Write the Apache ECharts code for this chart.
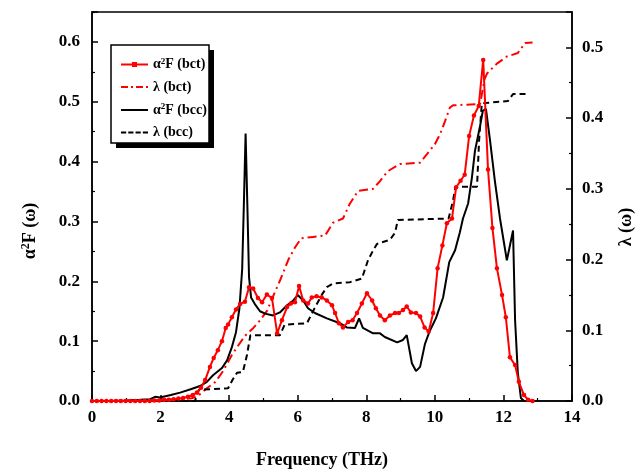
<!DOCTYPE html>
<html><head><meta charset="utf-8">
<script src="https://cdn.jsdelivr.net/npm/echarts@6/dist/echarts.min.js"></script>
<style>html,body{margin:0;padding:0;background:#fff}#c{width:644px;height:473px}</style>
</head><body><div id="c"></div>
<script>
// [frequency (THz), value]
const a2fBct = [[0,0],[0.14,0],[0.28,0],[0.42,0],[0.56,0],[0.7,0],[0.84,0],[0.98,0],[1.12,0],[1.26,0],[1.4,0],[1.54,0],[1.68,0],[1.82,0.001],[1.96,0.001],[2.1,0.002],[2.24,0.002],[2.38,0.003],[2.52,0.004],[2.66,0.005],[2.8,0.007],[2.94,0.01],[3.06,0.014],[3.18,0.022],[3.3,0.035],[3.44,0.057],[3.55,0.072],[3.67,0.085],[3.79,0.1],[3.9,0.122],[3.97,0.128],[4.08,0.14],[4.2,0.153],[4.32,0.162],[4.46,0.166],[4.58,0.19],[4.7,0.188],[4.84,0.172],[4.96,0.165],[5.1,0.178],[5.25,0.172],[5.4,0.113],[5.54,0.135],[5.69,0.157],[5.8,0.163],[5.92,0.165],[6.04,0.192],[6.16,0.168],[6.3,0.163],[6.41,0.173],[6.55,0.175],[6.7,0.173],[6.85,0.168],[7.0,0.16],[7.09,0.147],[7.2,0.13],[7.32,0.123],[7.47,0.132],[7.6,0.135],[7.73,0.147],[7.87,0.163],[8.02,0.18],[8.17,0.168],[8.28,0.155],[8.4,0.143],[8.54,0.135],[8.69,0.143],[8.84,0.147],[8.95,0.147],[9.07,0.152],[9.18,0.158],[9.3,0.148],[9.45,0.147],[9.57,0.141],[9.7,0.123],[9.82,0.116],[9.95,0.147],[10.08,0.222],[10.22,0.26],[10.35,0.297],[10.5,0.305],[10.62,0.357],[10.75,0.368],[10.87,0.378],[11.0,0.443],[11.14,0.477],[11.28,0.493],[11.41,0.57],[11.55,0.387],[11.68,0.289],[11.81,0.222],[11.96,0.177],[12.07,0.14],[12.19,0.073],[12.34,0.06],[12.45,0.032],[12.6,0.01],[12.72,0.002],[12.85,0]];
const lambdaBct = [[0,0],[1.0,0],[2.0,0.001],[2.5,0.002],[2.9,0.004],[3.06,0.006],[3.35,0.018],[3.6,0.027],[3.82,0.042],[4.08,0.065],[4.23,0.076],[4.46,0.092],[4.7,0.103],[4.9,0.114],[5.1,0.127],[5.3,0.15],[5.48,0.17],[5.72,0.199],[5.92,0.217],[6.1,0.23],[6.45,0.232],[6.8,0.234],[7.03,0.252],[7.32,0.258],[7.52,0.279],[7.76,0.297],[8.2,0.3],[8.4,0.311],[8.63,0.325],[8.98,0.335],[9.57,0.337],[9.77,0.349],[10.0,0.363],[10.15,0.377],[10.3,0.396],[10.44,0.415],[10.53,0.418],[11.32,0.42],[11.45,0.455],[11.52,0.463],[11.81,0.477],[12.1,0.487],[12.42,0.492],[12.63,0.506],[12.85,0.507]];
const a2fBcc = [[0,0],[0.5,0],[1.0,0.001],[1.4,0.002],[1.7,0.003],[1.84,0.007],[1.98,0.006],[2.3,0.01],[2.57,0.014],[2.9,0.02],[3.15,0.025],[3.35,0.032],[3.53,0.043],[3.79,0.055],[3.94,0.068],[4.08,0.09],[4.2,0.115],[4.3,0.155],[4.38,0.22],[4.43,0.33],[4.48,0.447],[4.53,0.33],[4.58,0.207],[4.64,0.173],[4.75,0.162],[4.9,0.15],[5.05,0.146],[5.28,0.143],[5.48,0.148],[5.69,0.16],[5.87,0.168],[6.0,0.177],[6.16,0.168],[6.3,0.155],[6.5,0.147],[6.85,0.138],[7.23,0.13],[7.43,0.123],[7.67,0.122],[7.79,0.138],[7.9,0.122],[8.2,0.113],[8.4,0.113],[8.54,0.107],[8.9,0.098],[9.07,0.102],[9.18,0.11],[9.33,0.063],[9.45,0.05],[9.57,0.057],[9.71,0.095],[9.85,0.117],[10.03,0.138],[10.24,0.173],[10.42,0.232],[10.59,0.252],[10.73,0.282],[10.82,0.305],[10.97,0.33],[11.08,0.373],[11.17,0.418],[11.32,0.46],[11.4,0.485],[11.49,0.488],[11.61,0.435],[11.75,0.368],[11.9,0.305],[12.1,0.235],[12.28,0.285],[12.34,0.135],[12.42,0.047],[12.51,0.005],[12.6,0]];
const lambdaBcc = [[0,0],[3.0,0],[3.12,0.016],[3.97,0.018],[4.1,0.03],[4.23,0.04],[4.4,0.041],[4.52,0.065],[4.62,0.093],[5.48,0.093],[5.62,0.108],[6.27,0.11],[6.5,0.132],[6.7,0.15],[6.85,0.161],[7.03,0.166],[7.52,0.168],[7.87,0.173],[8.05,0.199],[8.2,0.213],[8.31,0.222],[8.69,0.228],[8.84,0.238],[8.92,0.256],[10.4,0.258],[10.53,0.283],[10.6,0.303],[11.23,0.303],[11.29,0.368],[11.37,0.421],[12.13,0.424],[12.28,0.434],[12.68,0.434]];
const seriesNames = ['a2F (bct)','λ (bct)','a2F (bcc)','λ (bcc)'];
const legendRich = {
  'a2F (bct)': '{t|α}{s|2}{t|F (bct)}',
  'λ (bct)': '{t|λ (bct)}',
  'a2F (bcc)': '{t|α}{s|2}{t|F (bcc)}',
  'λ (bcc)': '{t|λ (bcc)}'
};
// legend key shapes (line samples)
const legendIcons = {
  'a2F (bct)': 'path://M0,5h27v2h-27z M11,3.5h5v5h-5z',
  'λ (bct)': 'path://M0,5h7v2h-7z M10,5h2v2h-2z M15,5h7v2h-7z M25,5h2v2h-2z',
  'a2F (bcc)': 'path://M0,5h27v2h-27z',
  'λ (bcc)': 'path://M0,5h5v2h-5z M7,5h5v2h-5z M14,5h5v2h-5z M21,5h5v2h-5z'
};
const FONT = '"Liberation Serif", "Times New Roman", serif';
const chart = echarts.init(document.getElementById('c'), null, {renderer:'canvas'});
const lbl = {fontFamily: FONT, fontWeight:'bold', fontSize:17, color:'#000'};
chart.setOption({
  animation:false,
  backgroundColor:'#fff',
  grid:{left:92, right:72, top:12, bottom:72, show:true, borderColor:'#000', borderWidth:1.5, backgroundColor:'transparent'},
  xAxis:{type:'value', min:0, max:14, interval:2,
    axisLine:{lineStyle:{color:'#000', width:1.5}},
    axisTick:{inside:true, length:6, lineStyle:{color:'#000', width:1.5}},
    minorTick:{show:true, splitNumber:2, length:3, lineStyle:{color:'#000', width:1.2}},
    splitLine:{show:false},
    axisLabel:Object.assign({margin:8}, lbl)
  },
  yAxis:[
    {type:'value', min:0, max:0.65, interval:0.1,
     axisLine:{show:true, lineStyle:{color:'#000', width:1.5}},
     axisTick:{show:true, inside:true, length:6, lineStyle:{color:'#000', width:1.5}},
     minorTick:{show:true, splitNumber:2, length:3, lineStyle:{color:'#000', width:1.2}},
     splitLine:{show:false},
     axisLabel:Object.assign({margin:12, showMaxLabel:false, formatter:v=>v.toFixed(1)}, lbl)
    },
    {type:'value', min:0, max:0.55, interval:0.1, position:'right',
     axisLine:{show:true, lineStyle:{color:'#000', width:1.5}},
     axisTick:{show:true, inside:true, length:6, lineStyle:{color:'#000', width:1.5}},
     minorTick:{show:true, splitNumber:2, length:3, lineStyle:{color:'#000', width:1.2}},
     splitLine:{show:false},
     axisLabel:Object.assign({margin:10, showMaxLabel:false, formatter:v=>v.toFixed(1)}, lbl)
    }
  ],
  legend:{
    orient:'vertical', left:116, top:52, itemWidth:27, itemHeight:12, itemGap:8.5, itemTextGap:3,
    symbolKeepAspect:true,
    data:seriesNames.map(n=>({name:n, icon:legendIcons[n]})), z:10,
    formatter:n=>legendRich[n],
    textStyle:{fontFamily:FONT, fontWeight:'bold', fontSize:14, color:'#000',
      rich:{t:{fontFamily:FONT, fontWeight:'bold', fontSize:14, lineHeight:15, color:'#000'},
            s:{fontFamily:FONT, fontWeight:'bold', fontSize:9, lineHeight:15, color:'#000', verticalAlign:'top'}}}
  },
  graphic:[
    {type:'rect', shape:{x:116, y:50, width:98, height:98}, style:{fill:'#000'}, z:5},
    {type:'rect', shape:{x:111, y:45, width:98, height:98}, style:{fill:'#fff', stroke:'#000', lineWidth:1.5}, z:6},
    {type:'text', x:30, y:231, rotation:Math.PI/2, z:10,
     style:{text:'{t|α}{s|2}{t|F (ω)}', align:'center', verticalAlign:'middle',
       rich:{t:{fontFamily:FONT, fontWeight:'bold', fontSize:18, lineHeight:20, fill:'#000'},
             s:{fontFamily:FONT, fontWeight:'bold', fontSize:12, lineHeight:20, fill:'#000', verticalAlign:'top'}}}},
    {type:'text', x:626, y:227, rotation:Math.PI/2, z:10,
     style:{text:'λ (ω)', align:'center', verticalAlign:'middle', fontFamily:FONT, fontWeight:'bold', fontSize:18, fill:'#000'}},
    {type:'text', x:322, y:460, z:10,
     style:{text:'Frequency (THz)', align:'center', verticalAlign:'middle', fontFamily:FONT, fontWeight:'bold', fontSize:18, fill:'#000'}}
  ],
  series:[
    {name:seriesNames[1], type:'line', yAxisIndex:1, data:lambdaBct, showSymbol:false, symbol:'none',
     lineStyle:{color:'#ff0000', width:2, type:[9,4,2,4]}, itemStyle:{color:'#ff0000'}, z:2},
    {name:seriesNames[3], type:'line', yAxisIndex:1, data:lambdaBcc, showSymbol:false, symbol:'none',
     lineStyle:{color:'#000', width:2, type:[6,4]}, itemStyle:{color:'#000'}, z:2},
    {name:seriesNames[2], type:'line', yAxisIndex:0, data:a2fBcc, showSymbol:false, symbol:'none',
     lineStyle:{color:'#000', width:2}, itemStyle:{color:'#000'}, z:3},
    {name:seriesNames[0], type:'line', yAxisIndex:0, data:a2fBct, symbol:'circle', symbolSize:4.5, showSymbol:true,
     lineStyle:{color:'#ff0000', width:2}, itemStyle:{color:'#ff0000'}, z:4}
  ]
});
</script></body></html>
